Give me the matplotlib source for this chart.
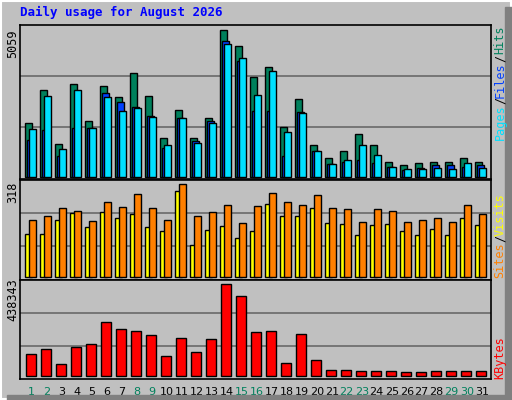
import matplotlib
matplotlib.use("Agg")
import matplotlib.pyplot as plt
from matplotlib.patches import Rectangle
import numpy as np

days = list(range(1, 32))
hits_px = [54.3,86.7,33.3,93.3,56.3,91.3,80.3,104.3,81.3,39.3,67.3,39.3,59.3,147.3,131.3,100.3,110.3,50.3,78.3,32.3,19.3,26.3,43.3,32.3,15.3,12.3,14.3,15.3,15.3,19.3,15.3]
files_px = [37.3,46.7,20.7,49.3,48.7,84.3,75.3,70.3,61.3,29.3,59.3,36.3,56.3,136.3,116.3,66.3,66.3,21.3,65.3,26.3,13.3,15.3,17.3,14.3,10.3,7.3,9.3,12.3,12.3,10.3,12.3]
pages_px = [48.3,81.3,28.3,86.7,49.3,80.3,66.3,69.3,60.3,32.3,59.3,34.3,54.3,133.3,119.3,82.3,106.3,45.3,64.3,26.3,13.3,17.3,32.3,22.3,10.3,8.3,8.3,9.3,8.3,14.3,9.3]
hits = [round(h * 5059 / 147.3) for h in hits_px]
files = [round(h * 5059 / 147.3) for h in files_px]
pages = [round(h * 5059 / 147.3) for h in pages_px]
sites_px = [127,127,172,190,148,193,175,187,148,136,256,94,139,151,115,136,217,181,181,205,160,157,124,154,157,136,124,142,124,175,154]
visits_px = [172,181,205,199,166,226,208,247,205,172,277,181,193,214,160,211,250,223,214,244,205,202,163,202,196,163,169,175,163,214,187]
sites = [round(v * 318 / 277) for v in sites_px]
visits = [round(v * 318 / 277) for v in visits_px]
kb_px = [64,79,34,85,94,160,139,133,121,58,112,70,109,274,238,130,133,37,124,46,16,16,13,13,13,10,10,13,13,13,13]
kbytes = [round(v * 438343 / 274) for v in kb_px]
weekend = [1,2,8,9,15,16,22,23,29,30]

BG = "#c0c0c0"
C_HITS, C_FILES, C_PAGES = "#00805c", "#0040ff", "#00e0ff"
C_SITES, C_VISITS, C_KB = "#ffff00", "#ff8000", "#ff0000"
W, H = 512, 400
fig = plt.figure(figsize=(5.12, 4.0), dpi=100, facecolor=BG)

def fr(x0, y0, x1, y1):
    return [x0 / W, 1 - y1 / H, (x1 - x0) / W, (y1 - y0) / H]

fig.add_artist(Rectangle((0, 0), 1, 1, transform=fig.transFigure, fill=False, ec="black", lw=1))
fig.add_artist(Rectangle((1/W, 1/H), 1-2/W, 1-2/H, transform=fig.transFigure, fill=False, ec="white", lw=1.5))
fig.add_artist(Rectangle((505/W, 0), 7/W, 1-7/H, transform=fig.transFigure, color="#808080"))
fig.add_artist(Rectangle((7/W, 0), 1, 5/H, transform=fig.transFigure, color="#808080"))

x = np.array(days, dtype=float)
xl = (0.5, 0.5 + 471 / 15)
bw = 7 / 15

def setup(ax, ymin, ymax, grids):
    ax.set_facecolor(BG)
    ax.set_xlim(*xl)
    ax.set_ylim(ymin, ymax)
    for g in grids:
        ax.axhline(g, color="#707070", lw=1.3, zorder=0.5)
    ax.set_xticks([]); ax.set_yticks([])
    for s in ax.spines.values():
        s.set_color("black"); s.set_linewidth(1.2)

s1 = 5059 / 147.3
ax1 = fig.add_axes(fr(20, 25, 491, 179))
setup(ax1, -2 * s1, 152 * s1, [50.5 * s1, 101 * s1])
ax1.bar(x - 0.147, hits, bw, align="edge", color=C_HITS, ec="black", lw=1, zorder=2)
ax1.bar(x - 0.147 + 0.13, files, bw, align="edge", color=C_FILES, ec="black", lw=1, zorder=2)
ax1.bar(x + 0.12, pages, bw, align="edge", color=C_PAGES, ec="black", lw=1, zorder=2)

s2 = 318 / 92.3
ax2 = fig.add_axes(fr(20, 180, 491, 280))
setup(ax2, -3.3 * s2, 96.7 * s2, [30.3 * s2, 63.3 * s2])
ax2.bar(x - 0.147, sites, bw, align="edge", color=C_SITES, ec="black", lw=1, zorder=2)
ax2.bar(x + 0.12, visits, bw, align="edge", color=C_VISITS, ec="black", lw=1, zorder=2)

s3 = 438343 / 91.3
ax3 = fig.add_axes(fr(20, 280, 491, 379))
setup(ax3, -3.3 * s3, 95.7 * s3, [29.7 * s3, 62.3 * s3])
ax3.bar(x - 0.08, kbytes, 10 / 15, align="edge", color=C_KB, ec="black", lw=1, zorder=2)
for d in days:
    ax3.text(d + 0.28, -0.08, str(d), transform=ax3.get_xaxis_transform(), ha="center", va="top",
             fontsize=8, color=C_HITS if d in weekend else "black")

fig.text(20 / W, 1 - 12 / H, "Daily usage for August 2026", color="#0000ff", fontsize=9,
         family="DejaVu Sans Mono", fontweight="bold", va="center")

def vt(xp, yp, s, c):
    fig.text(xp / W, 1 - yp / H, s, color=c, fontsize=8.5, rotation=90, ha="center", va="center",
             family="DejaVu Sans Mono")

vt(13, 44, "5059", "black")
vt(13, 192, "318", "black")
vt(13, 300, "438343", "black")
vt(500, 122, "Pages", C_PAGES); vt(500, 100, "/", "black"); vt(500, 80, "Files", C_FILES)
vt(500, 58, "/", "black"); vt(500, 40, "Hits", C_HITS)
vt(500, 260, "Sites", C_VISITS); vt(500, 238, "/", "black"); vt(500, 215, "Visits", C_SITES)
vt(500, 358, "KBytes", C_KB)

fig.savefig("out.png", dpi=100, facecolor=BG)
